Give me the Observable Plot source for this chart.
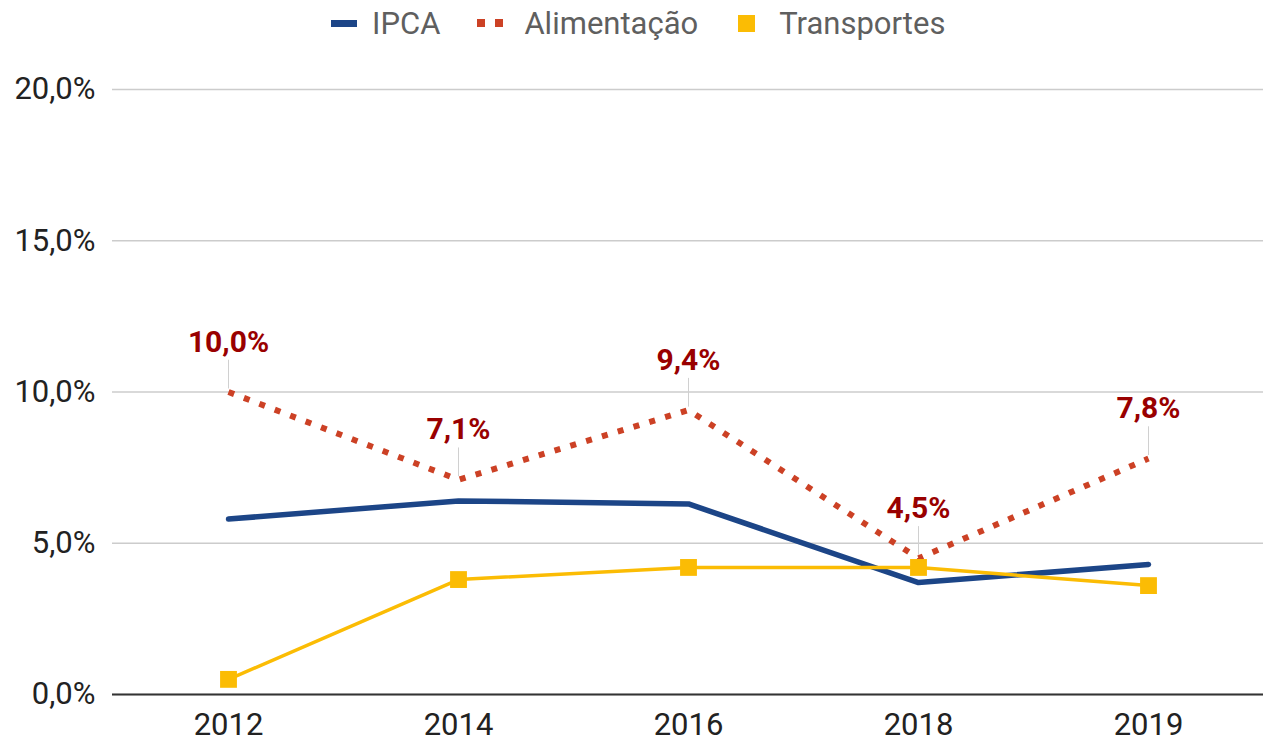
<!DOCTYPE html>
<html>
<head>
<meta charset="utf-8">
<script src="https://cdn.jsdelivr.net/npm/d3@7"></script>
<script src="https://cdn.jsdelivr.net/npm/@observablehq/plot@0.6"></script>
<style>
  html, body { margin: 0; padding: 0; background: #fff; }
  body { width: 1263px; height: 743px; overflow: hidden; font-family: Roboto, sans-serif; }
  #legend { height: 50px; display: flex; align-items: center; justify-content: flex-start; font-size: 31px; color: #5f5f5f; padding-left: 331px; padding-bottom: 4px; box-sizing: border-box; }
  .item { display: flex; align-items: center; }
  .item span { line-height: 1; }
</style>
</head>
<body>
<div id="legend"></div>
<div id="chart"></div>
<script>
const years = ["2012", "2014", "2016", "2018", "2019"];
const ipca = [5.8, 6.4, 6.3, 3.7, 4.3];
const alimentacao = [10.0, 7.1, 9.4, 4.5, 7.8];
const transportes = [0.5, 3.8, 4.2, 4.2, 3.6];
const seriesNames = ["IPCA", "Alimentação", "Transportes"];
const seriesColors = ["#1c4587", "#cc4125", "#fbbc04"];
const yTicks = [0, 5, 10, 15, 20];

const fmt = v => v.toFixed(1).replace(".", ",") + "%";

const rows = (vals) => years.map((y, i) => ({year: y, value: vals[i]}));
const dIpca = rows(ipca);
const dAlim = rows(alimentacao);
const dTransp = rows(transportes);

// Legend
const legend = document.getElementById("legend");
const swatches = [
  `<svg width="26" height="7" style="margin-right:15px"><rect width="26" height="7" fill="${seriesColors[0]}"/></svg>`,
  `<svg width="28" height="8" style="margin-right:19px"><rect x="0" width="8" height="8" fill="${seriesColors[1]}"/><rect x="18" width="8" height="8" fill="${seriesColors[1]}"/></svg>`,
  `<svg width="17" height="17" style="margin-right:24px"><rect width="17" height="17" fill="${seriesColors[2]}"/></svg>`
];
const gaps = [37, 40, 0];
seriesNames.forEach((n, i) => {
  const el = document.createElement("div");
  el.className = "item";
  el.style.marginRight = gaps[i] + "px";
  el.innerHTML = swatches[i] + `<span>${n}</span>`;
  legend.appendChild(el);
});

const chart = Plot.plot({
  width: 1263,
  height: 693,
  marginLeft: 112,
  marginRight: 0,
  marginTop: 39,
  marginBottom: 49,
  style: {fontFamily: "Roboto, sans-serif", fontSize: "31px", color: "#222", background: "#fff"},
  x: {type: "point", domain: years, padding: 0.5, label: null},
  y: {domain: [0, 20], label: null},
  marks: [
    Plot.gridY(yTicks, {stroke: "#cccccc", strokeOpacity: 1, strokeWidth: 1.5}),
    Plot.ruleY([0], {stroke: "#333", strokeWidth: 2}),
    Plot.axisX({tickSize: 0, tickPadding: 18, fill: "#222"}),
    Plot.axisY({ticks: yTicks, tickFormat: fmt, tickSize: 0, tickPadding: 17, fill: "#222"}),
    Plot.line(dIpca, {x: "year", y: "value", stroke: seriesColors[0], strokeWidth: 5.5}),
    Plot.line(dAlim, {x: "year", y: "value", stroke: seriesColors[1], strokeWidth: 6, strokeDasharray: "6,10.5", strokeLinecap: "butt"}),
    Plot.line(dTransp, {x: "year", y: "value", stroke: seriesColors[2], strokeWidth: 3.5}),
    Plot.dot(dTransp, {x: "year", y: "value", symbol: "square", r: 9.5, fill: seriesColors[2], stroke: "none"}),
    Plot.ruleX(dAlim, {x: "year", y1: d => d.value + 0.1, y2: d => d.value + 1.05, stroke: "#d0d0d0", strokeWidth: 1}),
    Plot.text(dAlim, {x: "year", y: "value", text: d => fmt(d.value), dy: -50, fill: "#990000", fontWeight: "bold", fontSize: 30})
  ]
});
document.getElementById("chart").appendChild(chart);
</script>
</body>
</html>
